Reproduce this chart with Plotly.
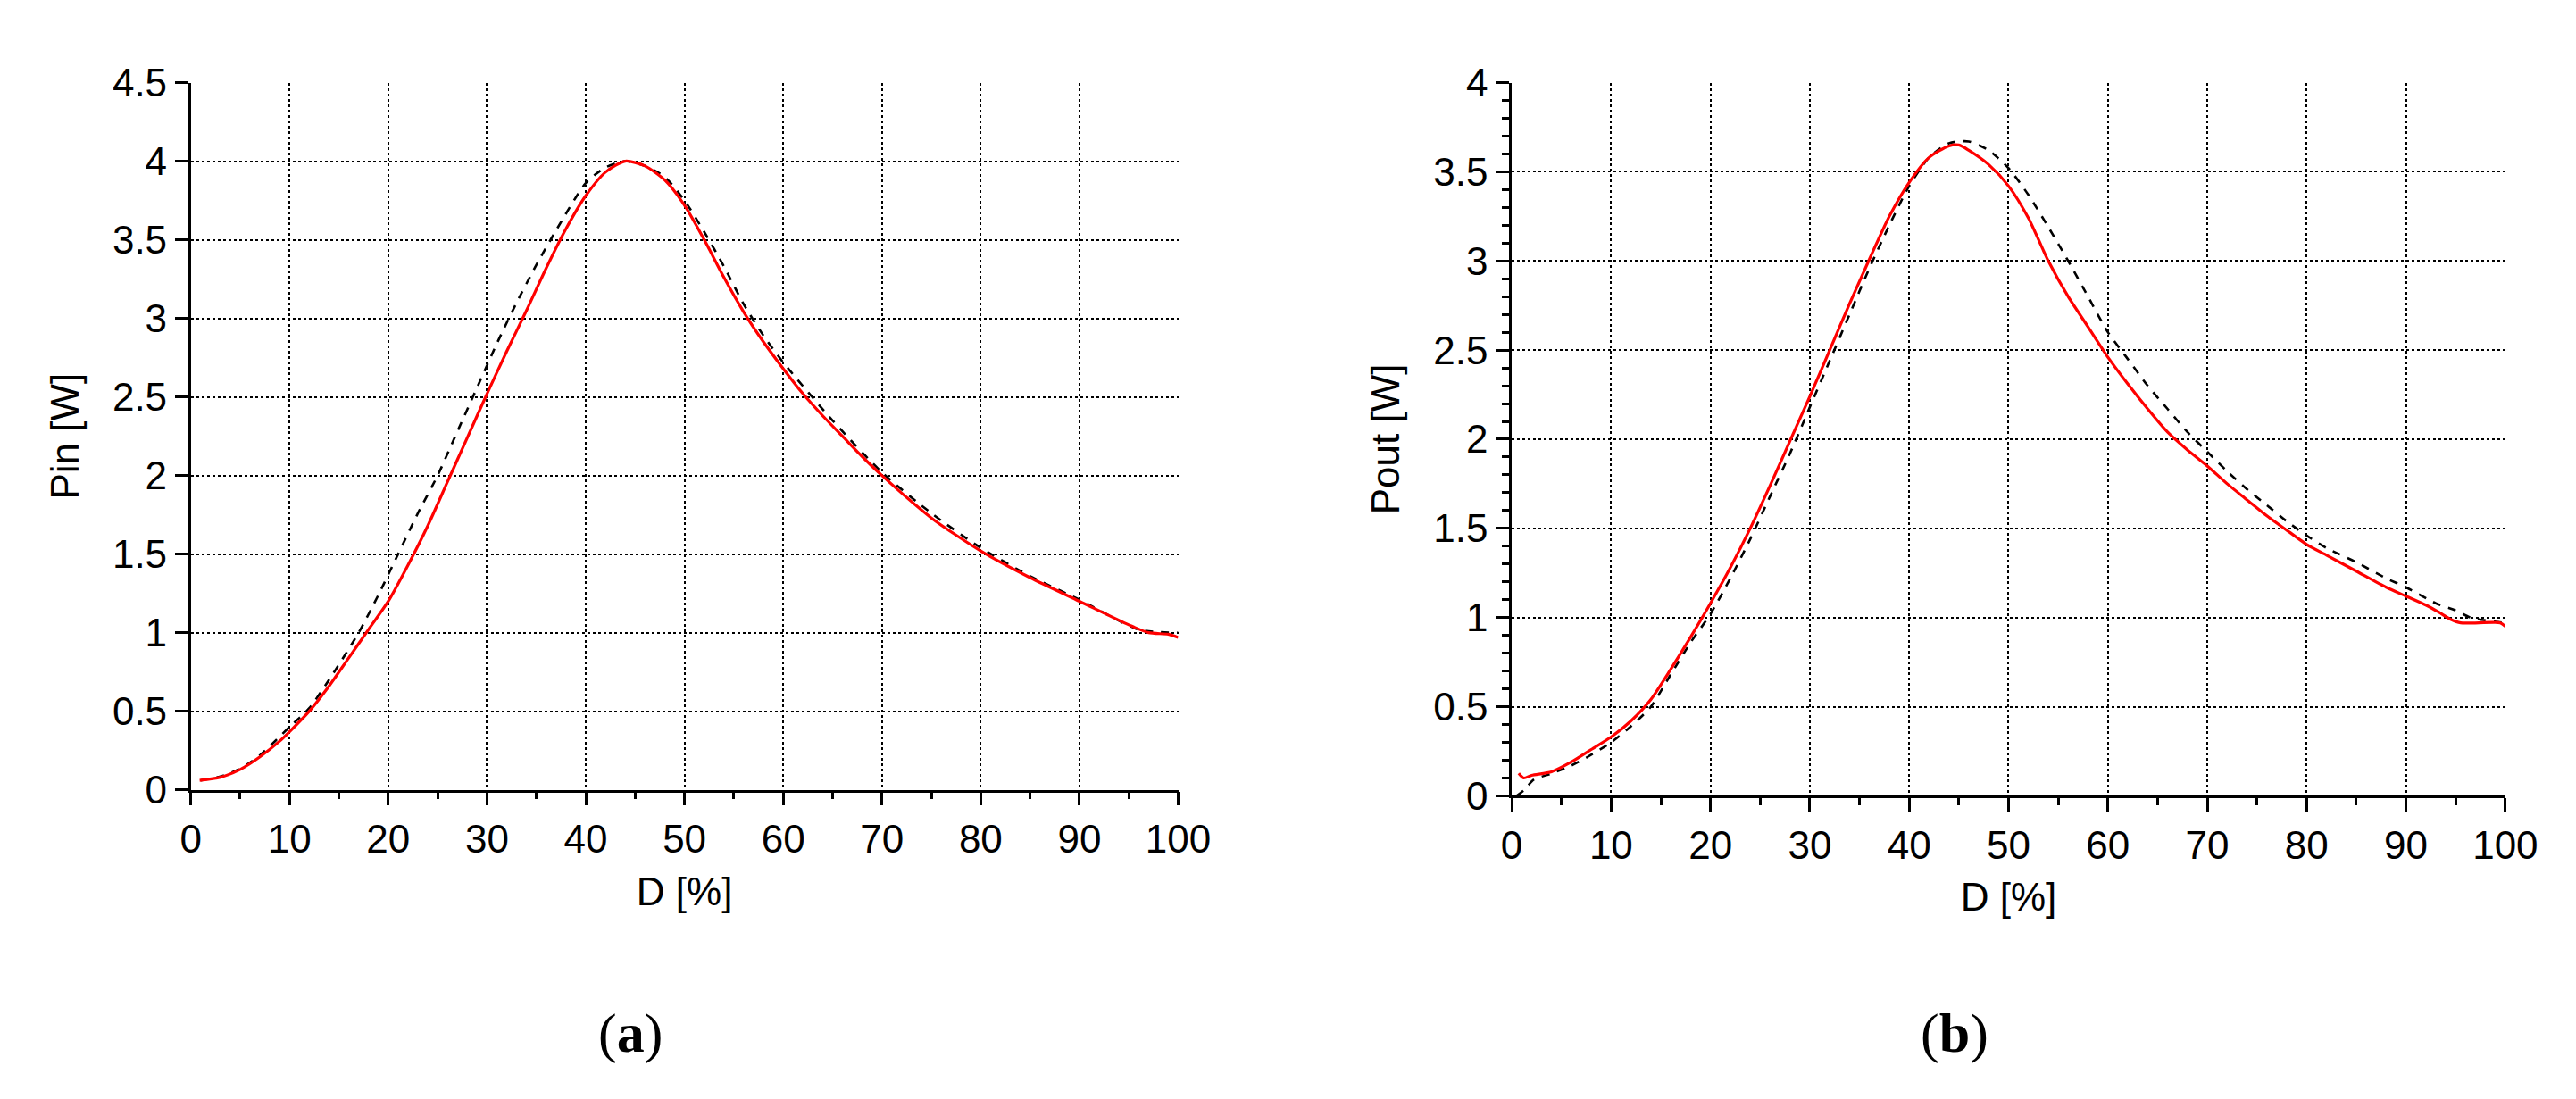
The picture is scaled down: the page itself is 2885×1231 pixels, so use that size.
import plotly.graph_objects as go

# (a) input power vs duty cycle
pin_solid_d = [0.9, 3, 5, 7, 9, 10, 12, 14, 16, 18, 20, 22, 24, 26, 28, 30, 32, 34, 36, 38, 40, 42, 44,
               46, 48, 50, 52, 54, 56, 58, 60, 62, 64, 66, 68, 70, 75, 80, 85, 90, 95, 97, 99, 100]
pin_solid = [0.06, 0.08, 0.13, 0.21, 0.31, 0.37, 0.5, 0.66, 0.84, 1.02, 1.2, 1.43, 1.68, 1.96, 2.24, 2.52, 2.79, 3.05,
             3.32, 3.57, 3.78, 3.93, 4.0,
             3.97, 3.88, 3.72, 3.5, 3.26, 3.04, 2.85, 2.68, 2.52, 2.38, 2.25, 2.12, 2.0, 1.73, 1.52, 1.35, 1.2,
             1.05, 1.0, 0.99, 0.97]
pin_dashed_d = [1, 3, 5, 7, 10, 12, 14, 17, 19, 21, 23, 25, 27, 29, 31, 33, 35, 37, 40, 42, 44,
                46, 48, 50, 52, 54, 56, 58, 60, 65, 70, 75, 80, 85, 90, 96, 100]
pin_dashed = [0.06, 0.085, 0.135, 0.22, 0.4, 0.52, 0.7, 1.0, 1.24, 1.5, 1.76, 2.0, 2.28, 2.56, 2.84, 3.1, 3.34, 3.56,
              3.86, 3.96, 4.0,
              3.97, 3.9, 3.75, 3.55, 3.33, 3.09, 2.89, 2.72, 2.35, 2.02, 1.76, 1.54, 1.36, 1.21, 1.02, 1.0]

# (b) output power vs duty cycle
pout_solid_d = [0.7, 1.2, 2, 4, 6, 8, 10, 12, 14, 16, 18, 20, 22, 24, 26, 28, 30, 32, 34, 36, 38, 40, 42, 44, 45,
                46, 48, 50, 52, 54, 56, 58, 60, 62, 64, 66, 68, 70, 72, 74, 76, 78, 80, 82, 85, 88, 90, 92, 93.3,
                94.5, 95.5, 99.5, 100]
pout_solid = [0.126, 0.10, 0.115, 0.135, 0.19, 0.26, 0.33, 0.42, 0.54, 0.71, 0.89, 1.08, 1.28, 1.5, 1.74, 1.99, 2.24,
              2.5, 2.76, 3.01, 3.25, 3.44, 3.58, 3.645, 3.65,
              3.62, 3.54, 3.42, 3.24, 3.0, 2.8, 2.63, 2.46, 2.31, 2.17, 2.04, 1.94, 1.85, 1.75, 1.66, 1.57, 1.49,
              1.41, 1.35, 1.26, 1.17, 1.12, 1.07, 1.03, 0.99, 0.97, 0.97, 0.95]
pout_dashed_d = [0.5, 1.3, 2.2, 4, 6, 8, 10, 12, 14, 16, 18, 20, 22, 24, 26, 28, 30, 32, 34, 36, 38, 40, 42, 44,
                 46, 48, 50, 52, 54, 56, 58, 60, 62, 64, 66, 68, 70, 72, 74, 76, 78, 80, 82, 85, 88, 90, 93, 95,
                 96.5, 100]
pout_dashed = [0.0, 0.035, 0.09, 0.125, 0.17, 0.23, 0.30, 0.39, 0.5, 0.68, 0.86, 1.02, 1.22, 1.44, 1.68, 1.92, 2.18,
               2.44, 2.7, 2.96, 3.2, 3.42, 3.58, 3.66,
               3.67, 3.62, 3.52, 3.37, 3.19, 3.0, 2.8, 2.6, 2.45, 2.3, 2.17, 2.04, 1.93, 1.82, 1.72, 1.63, 1.54,
               1.46, 1.39, 1.31, 1.22, 1.17, 1.08, 1.04, 1.0, 0.97]

x_ticks = [0, 10, 20, 30, 40, 50, 60, 70, 80, 90, 100]
pin_ticks = [0, 0.5, 1, 1.5, 2, 2.5, 3, 3.5, 4, 4.5]
pout_ticks = [0, 0.5, 1, 1.5, 2, 2.5, 3, 3.5, 4]

W, H = 2885, 1231
tick_font = dict(family="Liberation Sans, Arial, sans-serif", size=44, color="black")

fig = go.Figure()

# solid red and dashed black curves for each panel
fig.add_trace(go.Scatter(x=pin_dashed_d, y=pin_dashed, mode="lines", xaxis="x", yaxis="y",
                         line=dict(color="black", width=2.6, dash="dash", shape="spline", smoothing=0.7)))
fig.add_trace(go.Scatter(x=pin_solid_d, y=pin_solid, mode="lines", xaxis="x", yaxis="y",
                         line=dict(color="#ff0000", width=3.2, shape="spline", smoothing=0.7)))
fig.add_trace(go.Scatter(x=pout_dashed_d, y=pout_dashed, mode="lines", xaxis="x2", yaxis="y2",
                         line=dict(color="black", width=2.6, dash="dash", shape="spline", smoothing=0.7)))
fig.add_trace(go.Scatter(x=pout_solid_d, y=pout_solid, mode="lines", xaxis="x2", yaxis="y2",
                         line=dict(color="#ff0000", width=3.2, shape="spline", smoothing=0.7)))

common = dict(
    showline=True, linecolor="black", linewidth=2.5,
    ticks="outside", ticklen=15, tickwidth=2.5, tickcolor="black",
    showgrid=True, gridcolor="black", gridwidth=1.5, griddash="dot",
    zeroline=False, tickfont=tick_font, title_font=tick_font,
)
minor_x = dict(ticks="outside", ticklen=8, tickwidth=2.5, tickcolor="black", dtick=5, showgrid=False)

fig.update_layout(
    width=W, height=H,
    margin=dict(l=0, r=0, t=0, b=0),
    paper_bgcolor="white", plot_bgcolor="white",
    showlegend=False,
    xaxis=dict(common, domain=[197 / W, 1322 / W], range=[0, 100], anchor="y",
               tickvals=x_ticks, title=dict(text="D [%]", standoff=20), minor=minor_x),
    yaxis=dict(common, domain=[1 - 887 / H, 1 - 62 / H], range=[0, 4.5], anchor="x",
               tickvals=pin_ticks, title=dict(text="Pin [W]", standoff=24)),
    xaxis2=dict(common, domain=[1702 / W, 2834 / W], range=[0, 100], anchor="y2",
                tickvals=x_ticks, title=dict(text="D [%]", standoff=20), minor=minor_x),
    yaxis2=dict(common, domain=[1 - 894 / H, 1 - 62 / H], range=[0, 4], anchor="x2",
                tickvals=pout_ticks, title=dict(text="Pout [W]", standoff=24),
                minor=dict(ticks="outside", ticklen=8, tickwidth=2.5, tickcolor="black", dtick=0.1, showgrid=False)),
)

# panel labels
for label, xpos in [("a", 698 / W), ("b", 2206 / W)]:
    fig.add_annotation(text=f"(<b>{label}</b>)", x=xpos, y=1 - 1171 / H, xref="paper", yref="paper",
                       showarrow=False, xanchor="center", yanchor="middle",
                       font=dict(family="Liberation Serif, Times New Roman, serif", size=62, color="black"))

fig.write_html("out.html")
